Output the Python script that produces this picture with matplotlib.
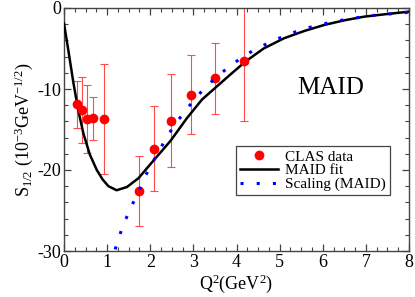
import matplotlib
matplotlib.use("Agg")
import matplotlib.pyplot as plt
from matplotlib.ticker import MultipleLocator

# CLAS data points with errors
clas_q2 = [0.31, 0.42, 0.53, 0.67, 0.92, 1.74, 2.08, 2.47, 2.94, 3.50, 4.18]
clas_s12 = [-11.9, -12.6, -13.7, -13.6, -13.7, -22.6, -17.4, -13.9, -10.7, -8.7, -6.6]
clas_err = [2.9, 4.1, 4.15, 2.65, 6.8, 4.3, 5.25, 5.75, 4.85, 4.35, 7.4]

# MAID fit curve
fit_q2 = [0.0, 0.10, 0.22, 0.33, 0.45, 0.60, 0.76, 0.90, 1.03, 1.22, 1.46, 1.73, 2.00,
          2.47, 2.85, 3.20, 3.86, 4.21, 4.63, 5.10, 5.57, 6.03, 6.50, 6.96, 7.43, 8.0]
fit_s12 = [-1.9, -5.2, -9.3, -12.6, -15.5, -18.1, -20.0, -21.2, -22.0, -22.5, -22.1, -21.0, -19.3,
           -16.4, -13.6, -11.3, -8.2, -6.6, -5.0, -3.74, -2.84, -2.1, -1.52, -1.07, -0.78, -0.45]

# Scaling (MAID) curve
scal_q2 = [1.186, 1.30, 1.43, 1.57, 1.74, 1.88, 2.05, 2.23, 2.40, 2.61, 2.83, 3.05, 3.30,
           3.58, 3.87, 4.15, 4.47, 4.79, 5.13, 5.47, 5.82, 6.18, 6.55, 6.91, 7.27, 7.63, 7.99]
scal_s12 = [-29.8, -27.9, -26.1, -24.4, -22.6, -20.8, -19.1, -17.4, -15.8, -14.1, -12.6, -11.1, -9.7,
            -8.3, -7.1, -6.0, -5.0, -4.2, -3.4, -2.75, -2.2, -1.77, -1.40, -1.11, -0.86, -0.70, -0.53]

plt.rcParams['font.family'] = ['Liberation Serif', 'DejaVu Serif']
plt.rcParams['mathtext.fontset'] = 'custom'
plt.rcParams['mathtext.rm'] = 'Liberation Serif'
plt.rcParams['mathtext.it'] = 'Liberation Serif:italic'
plt.rcParams['axes.unicode_minus'] = False

fig = plt.figure(figsize=(4.15, 2.97), dpi=100)
ax = fig.add_axes([64/415, 46/297, 345/415, 243/297])

ax.errorbar(clas_q2, clas_s12, yerr=clas_err, fmt='none', ecolor='#ff4a4a',
            elinewidth=0.8, capsize=2.6, capthick=0.8, zorder=2)
fit_line, = ax.plot(fit_q2, fit_s12, color='black', lw=1.8, zorder=3, label='MAID fit')
pts, = ax.plot(clas_q2, clas_s12, 'o', color='red', ms=6, mec='red', zorder=4, label='CLAS data')
scal_line, = ax.plot(scal_q2, scal_s12, color='blue', lw=2.2, linestyle=(0, (1, 4.3)),
                     dash_capstyle='butt', zorder=5, label='Scaling (MAID)')

ax.set_xlim(0, 8)
ax.set_ylim(-30, 0)
ax.xaxis.set_major_locator(MultipleLocator(1))
ax.xaxis.set_minor_locator(MultipleLocator(0.25))
ax.yaxis.set_major_locator(MultipleLocator(10))
ax.yaxis.set_minor_locator(MultipleLocator(2))
ax.tick_params(which='both', direction='in', top=True, right=True, color='#444444',
               labelsize=13, pad=2)
ax.tick_params(which='major', length=5, width=0.9)
ax.tick_params(which='minor', length=2.6, width=0.8)
for s in ax.spines.values():
    s.set_color('#444444')
    s.set_linewidth(1.0)

ax.set_xlabel(r'Q$^2$(GeV$^2$)', fontsize=13, labelpad=1)
ax.set_ylabel(r'S$_{1/2}$ (10$^{-3}$GeV$^{-1/2}$)', fontsize=13, labelpad=2)

ax.text(6.19, -9.9, 'MAID', fontsize=18, ha='center', va='center')

leg = ax.legend(handles=[pts, fit_line, scal_line], loc='lower left',
                bbox_to_anchor=(0.498, 0.23), fontsize=11, frameon=True, fancybox=False,
                edgecolor='#444444', framealpha=1, handlelength=2.5, labelspacing=0.0,
                borderpad=0.25, handletextpad=0.5, borderaxespad=0, numpoints=1)
leg.get_frame().set_linewidth(0.9)

fig.savefig('out.png', dpi=100)
